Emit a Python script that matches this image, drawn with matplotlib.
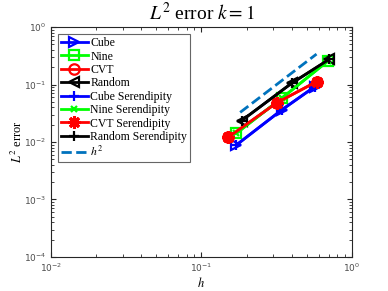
import numpy as np
import matplotlib
matplotlib.use("Agg")
import matplotlib.pyplot as plt

# mesh sizes and L2 errors
h_cube = [0.171, 0.341, 0.567]
e_cube = [0.0089, 0.036, 0.092]
h_nine = [0.171, 0.341, 0.697]
e_nine = [0.0142, 0.0575, 0.26]
h_cvt = [0.151, 0.316, 0.582]
e_cvt = [0.0121, 0.048, 0.112]
h_rand = [0.185, 0.397, 0.706]
e_rand = [0.0235, 0.105, 0.274]
# serendipity versions lie on top of the above
e_cube_s = [0.0089, 0.036, 0.092]
e_nine_s = [0.0142, 0.0575, 0.26]
e_cvt_s = [0.0121, 0.048, 0.112]
e_rand_s = [0.0235, 0.105, 0.274]
h_ref = np.array([0.181, 0.582])

fig = plt.figure(figsize=(3.88, 2.91), dpi=100)
ax = fig.add_axes([0.131, 0.117, 0.776, 0.79])

lw = 2
ms = 7.5
ax.loglog(h_cube, e_cube, '-', color='b', lw=lw, marker='>', ms=ms, mfc='none', mew=1.6, label='Cube')
ax.loglog(h_nine, e_nine, '-', color=(0, 1, 0), lw=lw, marker='s', ms=ms - 1, mfc='none', mew=1.6, label='Nine')
ax.loglog(h_cvt, e_cvt, '-', color='r', lw=lw, marker='o', ms=ms, mfc='none', mew=1.6, label='CVT')
ax.loglog(h_rand, e_rand, '-', color='k', lw=lw, marker='<', ms=ms, mfc='none', mew=1.6, label='Random')
ax.loglog(h_cube, e_cube_s, '-', color='b', lw=lw, marker='+', ms=ms, mew=1.6, label='Cube Serendipity')
ax.loglog(h_nine, e_nine_s, '-', color=(0, 1, 0), lw=lw, marker='x', ms=ms - 2.5, mew=1.6, label='Nine Serendipity')
ax.loglog(h_cvt, e_cvt_s, '-', color='r', lw=lw, marker=(8, 2, 0), ms=ms + 1.5, mew=2.2, label='CVT Serendipity')
ax.loglog(h_rand, e_rand_s, '-', color='k', lw=lw, marker='+', ms=ms, mew=1.6, label='Random Serendipity')
ax.loglog(h_ref, h_ref**2, '--', color=(0, 0.447, 0.741), lw=lw, label='$h^2$')

ax.set_xlim(1e-2, 1)
ax.set_ylim(1e-4, 1)
ax.tick_params(which='both', direction='in', top=True, right=True, labelsize=6.5,
               color='0.15', labelcolor='0.3')
ax.tick_params(which='major', length=3.5)
ax.tick_params(which='minor', length=2)
for s in ax.spines.values():
    s.set_color('0.15')
    s.set_linewidth(0.8)

ax.set_title('$L^2$ error $k=1$', fontsize=14, family='Liberation Serif', math_fontfamily='stix', pad=5)
ax.set_xlabel('$h$', fontsize=9, math_fontfamily='stix', labelpad=1)
ax.set_ylabel('$L^2$ error', fontsize=9, family='Liberation Serif', math_fontfamily='stix', labelpad=-1)

leg = ax.legend(loc='upper left', prop={'family': 'Liberation Serif', 'size': 8.5, 'math_fontfamily': 'stix'},
                fancybox=False, edgecolor='0.4', framealpha=1, borderpad=0.25, labelspacing=0.12,
                handlelength=2.3, handletextpad=0.2, borderaxespad=0.6)
leg.get_frame().set_linewidth(0.8)

fig.savefig('out.png', dpi=100)
